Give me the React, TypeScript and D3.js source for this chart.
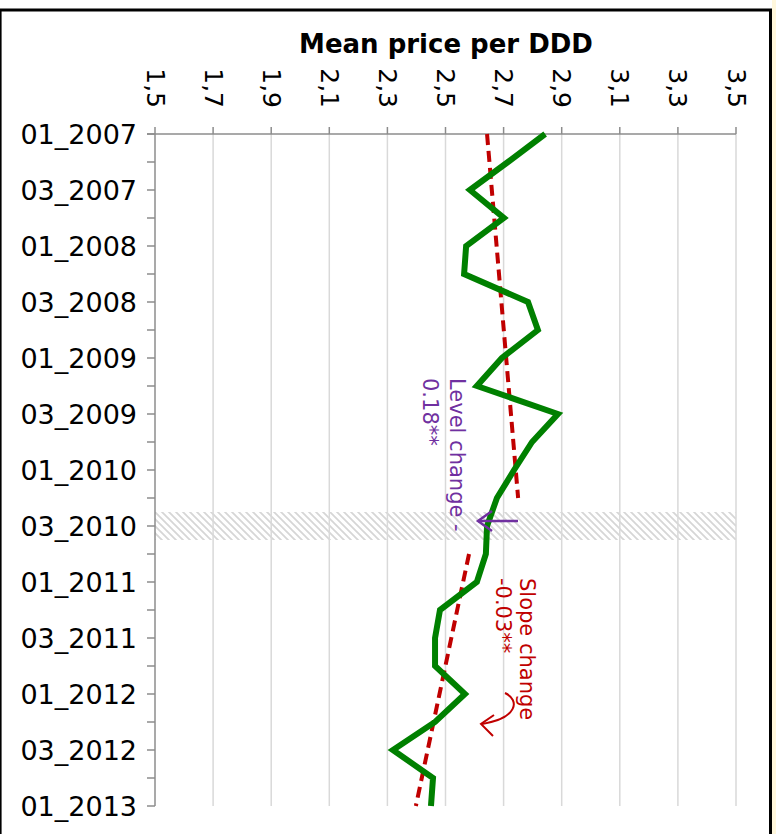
import * as d3 from 'd3'

// quarterly periods, label only on every second one
const periods = [
  '01_2007', '02_2007', '03_2007', '04_2007',
  '01_2008', '02_2008', '03_2008', '04_2008',
  '01_2009', '02_2009', '03_2009', '04_2009',
  '01_2010', '02_2010', '03_2010', '04_2010',
  '01_2011', '02_2011', '03_2011', '04_2011',
  '01_2012', '02_2012', '03_2012', '04_2012',
  '01_2013'
]
const meanPrice = [
  2.843, 2.715, 2.584, 2.701, 2.571, 2.564, 2.784, 2.818, 2.694, 2.608,
  2.887, 2.798, 2.736, 2.677, 2.643, 2.639, 2.608, 2.481, 2.464, 2.464,
  2.567, 2.464, 2.319, 2.457, 2.45
]
// fitted segments: [period index, value]
const preTrend: [number, number][] = [[0, 2.643], [13, 2.75]]
const postTrend: [number, number][] = [[15, 2.581], [24, 2.398]]
const interventionIndex = 14
const valueTicks = [1.5, 1.7, 1.9, 2.1, 2.3, 2.5, 2.7, 2.9, 3.1, 3.3, 3.5]

const W = 776
const H = 834
const FONT = '"DejaVu Sans", Verdana, sans-serif'

export default function App() {
  const x = d3.scaleLinear().domain([1.5, 3.5]).range([155, 736])
  const y = d3.scaleLinear().domain([0, periods.length - 1]).range([134, 806])

  const line = d3.line<[number, number]>()
    .x(d => x(d[1]))
    .y(d => y(d[0]))

  const series: [number, number][] = meanPrice.map((v, i) => [i, v])
  const fmt = (v: number) => v.toFixed(1).replace('.', ',')

  const bandTop = y(interventionIndex - 0.5)
  const bandBottom = y(interventionIndex + 0.5)
  const arrowY = y(interventionIndex) - 5

  return (
    <div style={{ position: 'absolute', left: 0, top: 0 }}>
      <svg width={W} height={H} style={{ display: 'block', background: '#fff' }} fontFamily={FONT}>
        <defs>
          <pattern id="hatch" width="7" height="7" patternUnits="userSpaceOnUse">
            <path d="M-2,-2 L9,9 M-2,5 L2,9 M5,-2 L9,2" stroke="#d6d6d6" strokeWidth="1.8" />
          </pattern>
        </defs>

        {/* frame */}
        <rect x={772} y={0} width={4} height={H} fill="#fff7dc" />
        <line x1={0} x2={772} y1={10} y2={10} stroke="#000" strokeWidth={3} />
        <line x1={0.8} x2={0.8} y1={10} y2={H} stroke="#000" strokeWidth={1.6} />
        <line x1={770.5} x2={770.5} y1={10} y2={H} stroke="#000" strokeWidth={3} />

        {/* intervention band */}
        <rect x={x(1.5)} y={bandTop} width={x(3.5) - x(1.5)} height={bandBottom - bandTop} fill="url(#hatch)" />

        {/* gridlines */}
        {valueTicks.slice(1).map(t => (
          <line key={t} x1={x(t)} x2={x(t)} y1={y(0)} y2={y(periods.length - 1)} stroke="#d9d9d9" strokeWidth={1.5} />
        ))}

        {/* value axis on top */}
        <line x1={147} x2={x(3.5)} y1={y(0)} y2={y(0)} stroke="#8c8c8c" strokeWidth={1.5} />
        {valueTicks.map(t => (
          <g key={t}>
            <line x1={x(t)} x2={x(t)} y1={y(0) - 7} y2={y(0)} stroke="#8c8c8c" strokeWidth={1.5} />
            <text
              transform={`translate(${x(t)},108) rotate(90)`}
              textAnchor="end"
              dominantBaseline="central"
              fontSize={25}
              fill="#000"
            >
              {fmt(t)}
            </text>
          </g>
        ))}
        <text x={446} y={53} textAnchor="middle" fontSize={26} fontWeight="bold" fill="#000">
          Mean price per DDD
        </text>

        {/* period axis on left */}
        <line x1={x(1.5)} x2={x(1.5)} y1={y(0)} y2={y(periods.length - 1)} stroke="#8c8c8c" strokeWidth={1.5} />
        {periods.map((p, i) => (
          <g key={p}>
            <line x1={147} x2={x(1.5)} y1={y(i)} y2={y(i)} stroke="#8c8c8c" strokeWidth={1.5} />
            {i % 2 === 0 && (
              <text x={137} y={y(i)} textAnchor="end" dominantBaseline="central" fontSize={27} fill="#000">
                {p}
              </text>
            )}
          </g>
        ))}

        {/* fitted trends */}
        {[preTrend, postTrend].map((seg, k) => (
          <path key={k} d={line(seg) || ''} fill="none" stroke="#c00000" strokeWidth={4} strokeDasharray="11,6" />
        ))}

        {/* observed series */}
        <path d={line(series) || ''} fill="none" stroke="#008000" strokeWidth={6} strokeLinejoin="miter" />

        {/* level change annotation */}
        <g stroke="#7030a0" strokeWidth={2.5} fill="none">
          <line x1={518} x2={478} y1={arrowY} y2={arrowY} />
          <polyline points={`492,${arrowY - 10} 478,${arrowY} 492,${arrowY + 10}`} />
        </g>
        <text transform="translate(450,378) rotate(90)" fontSize={21} fill="#7030a0">
          <tspan x={0} dy={0}>Level change -</tspan>
          <tspan x={0} dy={27}>0.18**</tspan>
        </text>

        {/* slope change annotation */}
        <g stroke="#c00000" strokeWidth={2} fill="none">
          <path d="M505,693 C520,700 518,718 482,724" />
          <polyline points="494,715 481,724 493,736" />
        </g>
        <text transform="translate(520,578) rotate(90)" fontSize={21} fill="#c00000">
          <tspan x={0} dy={0}>Slope change</tspan>
          <tspan x={0} dy={24}>-0.03**</tspan>
        </text>
      </svg>
    </div>
  )
}
